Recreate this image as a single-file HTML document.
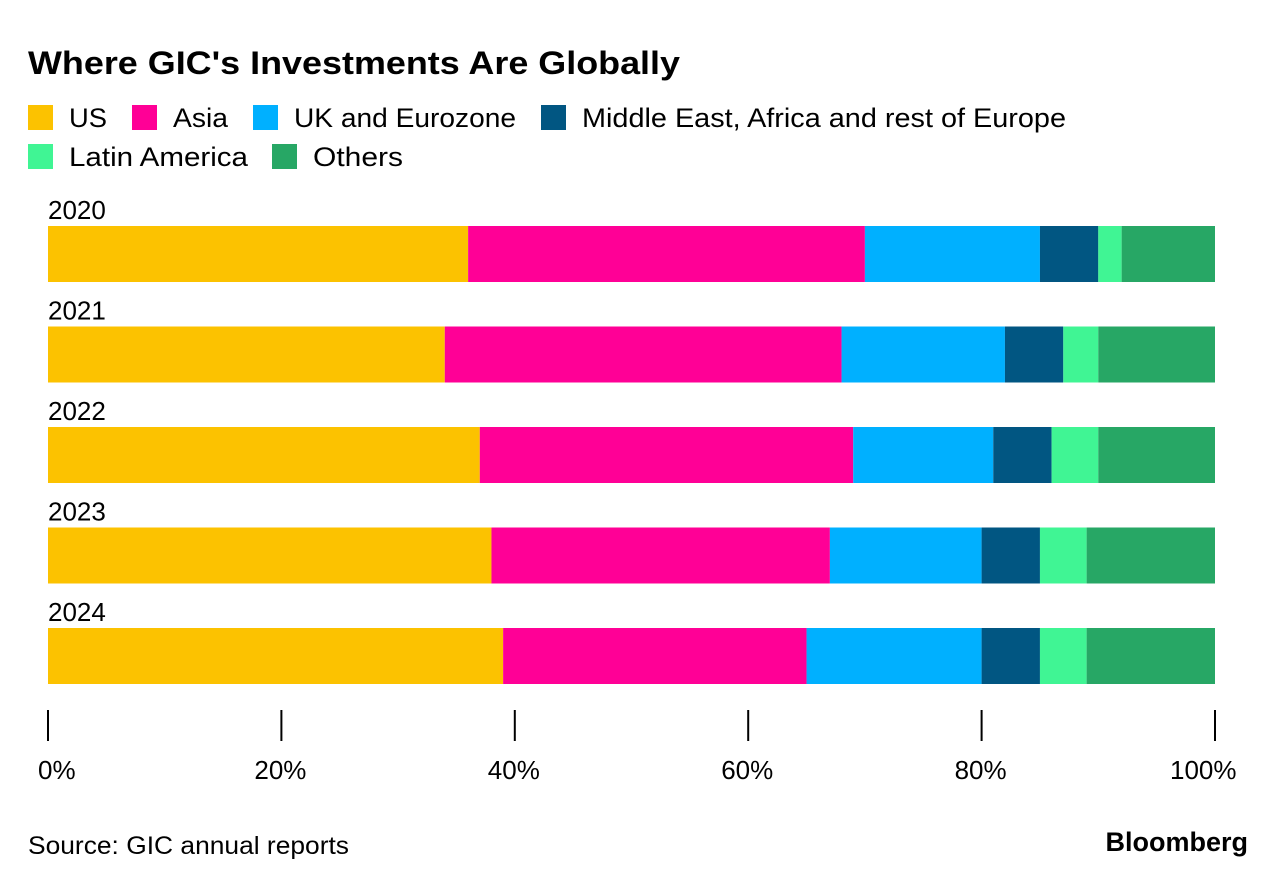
<!DOCTYPE html>
<html><head><meta charset="utf-8"><style>
body{margin:0;background:#fff;font-family:"Liberation Sans",Arial,sans-serif;}
svg{display:block}
</style></head><body>
<svg width="1287" height="886" id="c">
<text x="28" y="74" font-size="32" font-weight="bold" fill="#000" textLength="652" lengthAdjust="spacingAndGlyphs">Where GIC's Investments Are Globally</text>
<text x="28" y="854" font-size="25" fill="#000" textLength="321" lengthAdjust="spacingAndGlyphs">Source: GIC annual reports</text>
<text x="1248" y="851" font-size="27" font-weight="bold" fill="#000" text-anchor="end">Bloomberg</text>
<g id="legend"></g>
<g id="bars"></g>
<g id="axis"></g>
</svg>
<script>
const years=["2020","2021","2022","2023","2024"];
const us=[36,34,37,38,39];
const asia=[34,34,32,29,26];
const ukEuro=[15,14,12,13,15];
const meAfrica=[5,5,5,5,5];
const latam=[2,3,4,4,4];
const others=[8,10,10,11,11];
const seriesNames=["US","Asia","UK and Eurozone","Middle East, Africa and rest of Europe","Latin America","Others"];
const ticks=[0,20,40,60,80,100];
const colors=["#fcc200","#ff0096","#00b0ff","#015682","#40f594","#27a765"];
const series=[us,asia,ukEuro,meAfrica,latam,others];
const NS="http://www.w3.org/2000/svg";
const x0=48,x1=1215;
const xs=v=>x0+(x1-x0)*v/100;
const yb=i=>226+i*100.5;
function mk(t,a,p){const e=document.createElementNS(NS,t);for(const k in a)e.setAttribute(k,a[k]);p.appendChild(e);return e;}
const lg=document.getElementById('legend');
const lpos=[[28,118],[132,118],[253,118],[541,118],[28,157],[272,157]];
const llen=[38,55,222,484,179,90];
seriesNames.forEach((n,i)=>{
 const g=mk('g',{},lg);
 
 
 mk('rect',{x:lpos[i][0],y:lpos[i][1]-13,width:25,height:25,fill:colors[i]},g);
 const t=mk('text',{x:lpos[i][0]+41,y:lpos[i][1]+9,'font-size':27,fill:'#000',textLength:llen[i],lengthAdjust:'spacingAndGlyphs'},g);t.textContent=n;
});
const bg=document.getElementById('bars');
years.forEach((yr,i)=>{
 const t=mk('text',{x:48,y:yb(i)-7,'font-size':26,fill:'#000'},bg);t.textContent=yr;
 
 
 let c=0;
 series.forEach((s,j)=>{
  const r=mk('rect',{x:xs(c),y:yb(i),width:xs(c+s[i])-xs(c),height:56,fill:colors[j]},bg);
  
  
  c+=s[i];
 });
});
const ax=document.getElementById('axis');
ticks.forEach(v=>{
 const l=mk('line',{x1:xs(v),x2:xs(v),y1:710,y2:741,stroke:'#000','stroke-width':2},ax);
 
 
 const t=mk('text',{x:xs(v)+(v==0?-10:v==100?-45:-27),y:779,'font-size':26,fill:'#000'},ax);t.textContent=v+'%';
 
 
});
</script>
</body></html>
